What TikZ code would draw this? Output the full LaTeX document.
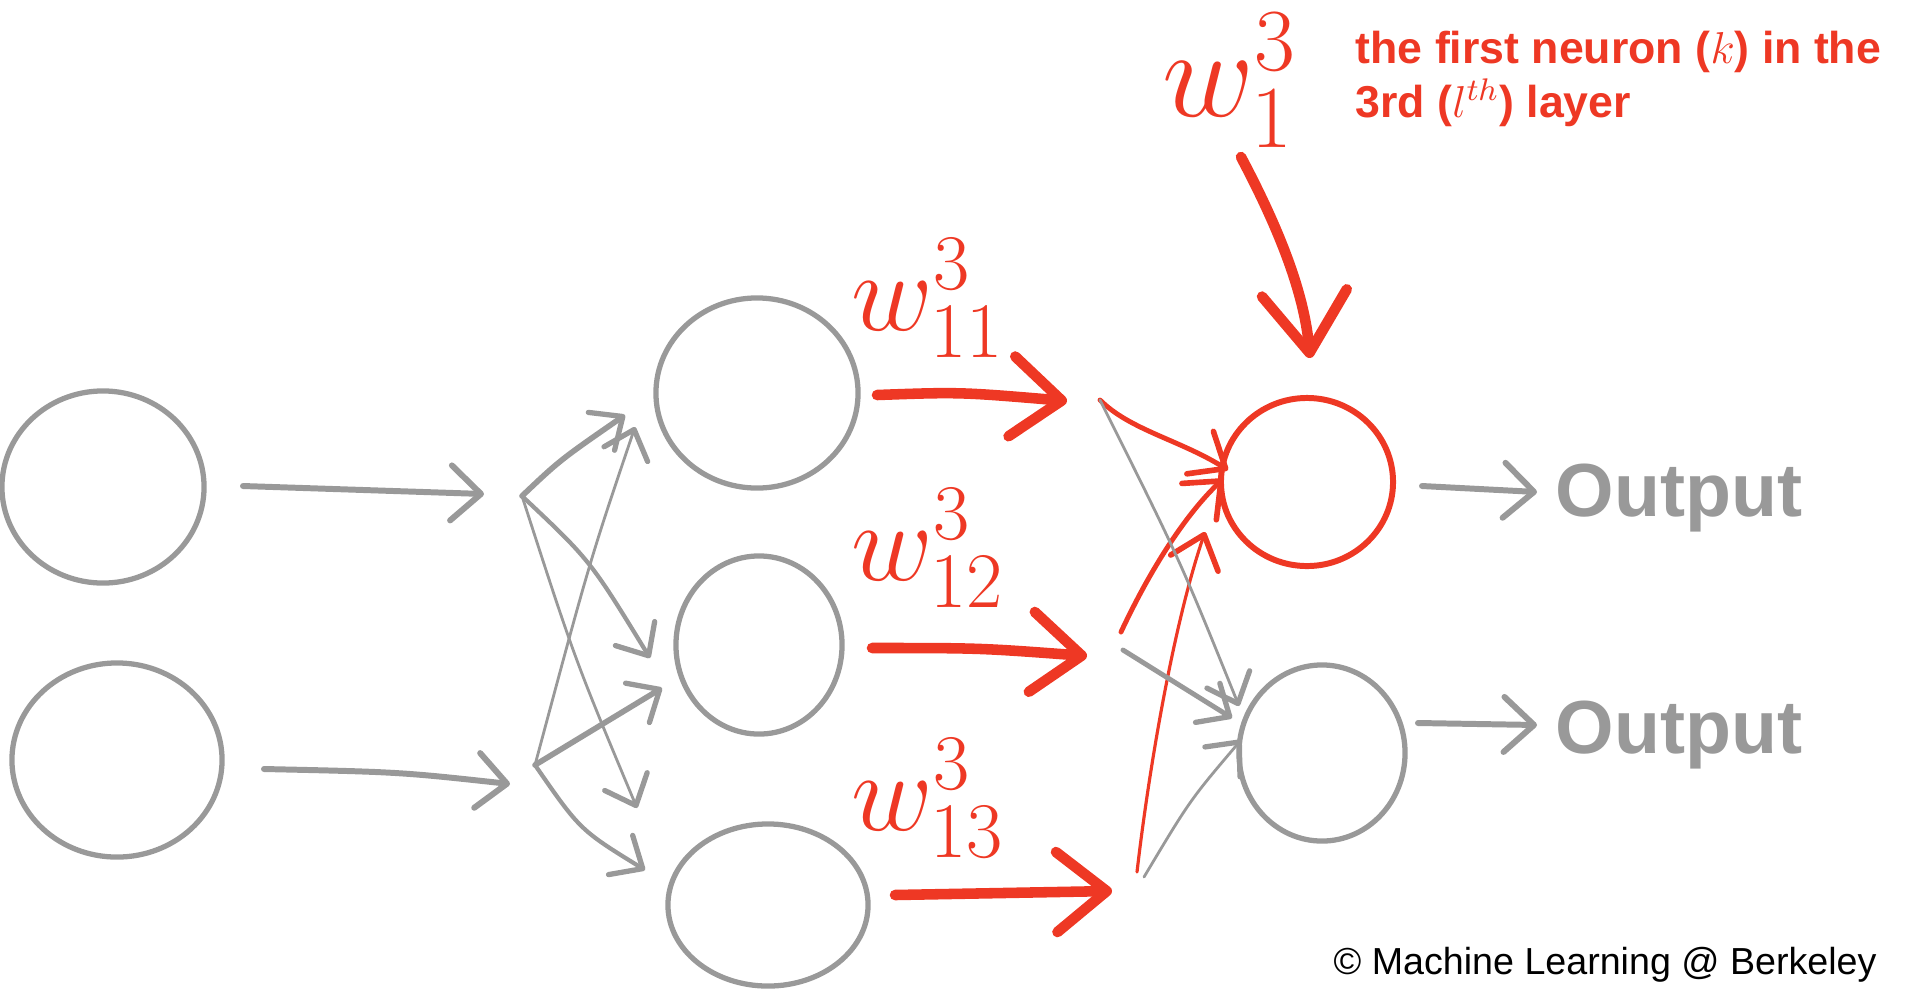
\RequirePackage{fix-cm}
\documentclass[tikz,border=0pt]{standalone}
\usepackage{fontspec}
\newfontfamily\helv{Liberation Sans}
\usetikzlibrary{arrows.meta,shapes.geometric}
\definecolor{nngray}{RGB}{153,153,153}
\definecolor{nnred}{RGB}{238,56,36}

\begin{document}
\begin{tikzpicture}[x=0.01cm,y=-0.01cm,
        neuron/.style={draw=nngray,line width=1.5pt,ellipse,inner sep=0pt},
        garrow/.style={draw=nngray,line width=1.7pt,line cap=round,-{Straight Barb[length=3mm,width=5.5mm,round]}},
        fanline/.style={draw=nngray,line cap=round,-{Straight Barb[length=2.6mm,width=4.6mm,round,line width=1.5pt]}},
        rarrow/.style={draw=nnred,line width=3pt,line cap=round,-{Straight Barb[length=5mm,width=8mm,round]}},
        rlink/.style={draw=nnred,line cap=round,-{Straight Barb[length=3mm,width=5mm,round,line width=1.6pt]}},
        wlabel/.style={text=nnred,inner sep=0pt,anchor=base west,font=\fontsize{32}{36}\selectfont}]
    \useasboundingbox (0,0) rectangle (1905,990);
    %% Neurons
    \node[neuron,minimum width=2.02cm,minimum height=1.92cm] (I1) at (103,487) {};
    \node[neuron,minimum width=2.10cm,minimum height=1.94cm] (I2) at (117,760) {};
    \node[neuron,minimum width=2.02cm,minimum height=1.90cm] (H1) at (757,393) {};
    \node[neuron,minimum width=1.66cm,minimum height=1.78cm] (H2) at (759,645) {};
    \node[neuron,minimum width=2.00cm,minimum height=1.62cm] (H3) at (768,905) {};
    \node[neuron,draw=nnred,line width=1.7pt,minimum width=1.72cm,minimum height=1.68cm] (O1) at (1307,482) {};
    \node[neuron,minimum width=1.66cm,minimum height=1.76cm] (O2) at (1322,753) {};
    %% Arrow ends
    \coordinate (a1) at (243,486);  \coordinate (b1) at (484,494);
    \coordinate (a2) at (264,769);  \coordinate (b2) at (510,784);
    \coordinate (h1) at (522,496);  \coordinate (h2) at (535,765);
    \coordinate (t11) at (625,415); \coordinate (t12) at (650,658); \coordinate (t13) at (637,808);
    \coordinate (t21) at (635,427); \coordinate (t22) at (662,688); \coordinate (t23) at (645,870);
    \coordinate (r1a) at (877,395); \coordinate (r1b) at (1067,401);
    \coordinate (r2a) at (872,648); \coordinate (r2b) at (1087,656);
    \coordinate (r3a) at (895,895); \coordinate (r3b) at (1112,891);
    \coordinate (s1) at (1100,400); \coordinate (s2) at (1121,632); \coordinate (s2g) at (1123,650);
    \coordinate (s3) at (1137,872); \coordinate (s3g) at (1144,877);
    \coordinate (e1) at (1228,470); \coordinate (e2) at (1223,479); \coordinate (e3) at (1205,532);
    \coordinate (f1) at (1239,706); \coordinate (f2) at (1232,718); \coordinate (f3) at (1241,740);
    \coordinate (o1a) at (1422,486); \coordinate (o1b) at (1537,492);
    \coordinate (o2a) at (1418,723); \coordinate (o2b) at (1537,725);
    \coordinate (k0) at (1241,157); \coordinate (k1) at (1310,358);
    %% Input layer
    \draw[garrow] (a1) -- (b1);
    \draw[garrow] (a2) .. controls (400,772) .. (b2);
    \draw[fanline,line width=1.6pt] (h1) .. controls (560,460) .. (t11);
    \draw[fanline,line width=1.2pt] (h1) .. controls (590,560) .. (t12);
    \draw[fanline,line width=0.8pt] (h1) .. controls (575,660) .. (t13);
    \draw[fanline,line width=0.8pt] (h2) .. controls (590,560) .. (t21);
    \draw[fanline,line width=1.6pt] (h2) -- (t22);
    \draw[fanline,line width=1.2pt] (h2) .. controls (580,830) .. (t23);
    %% Weights
    \draw[rarrow] (r1a) .. controls (960,392) .. (r1b);
    \draw[rarrow] (r2a) .. controls (980,648) .. (r2b);
    \draw[rarrow] (r3a) -- (r3b);
    \draw[rlink,line width=1.4pt] (s1) .. controls (1130,430) and (1180,440) .. (e1);
    \draw[rlink,line width=1.4pt] (s2) .. controls (1150,570) and (1185,515) .. (e2);
    \draw[rlink,line width=0.9pt] (s3) .. controls (1150,760) and (1175,620) .. (e3);
    \draw[fanline,line width=0.8pt] (s1) .. controls (1180,560) .. (f1);
    \draw[fanline,line width=1.4pt] (s2g) -- (f2);
    \draw[fanline,line width=0.8pt] (s3g) .. controls (1190,800) .. (f3);
    %% Outputs
    \draw[garrow] (o1a) -- (o1b);
    \draw[garrow] (o2a) -- (o2b);
    \draw[rarrow,-{Straight Barb[length=6mm,width=8.5mm,round]}] (k0) .. controls (1285,240) and (1305,300) .. (k1);
    %% Labels
    \node[wlabel] (w11) at (851,330) {$w^3_{11}$};
    \node[wlabel] (w12) at (851,580) {$w^3_{12}$};
    \node[wlabel] (w13) at (851,830) {$w^3_{13}$};
    \node[wlabel,font=\fontsize{36}{40}\selectfont] (w1) at (1162,116) {$w^3_1$};
    \node[text=nnred,inner sep=0pt,anchor=base west,align=left,font=\helv\bfseries\fontsize{12.7}{15.1}\selectfont] (note) at (1355,117)
        {the first neuron ($k$) in the\\3rd ($l^{th}$) layer};
    \node[text=nngray,inner sep=0pt,anchor=base west,font=\helv\bfseries\fontsize{21.4}{24}\selectfont] (out1) at (1555,516) {Output};
    \node[text=nngray,inner sep=0pt,anchor=base west,font=\helv\bfseries\fontsize{21.4}{24}\selectfont] (out2) at (1555,753) {Output};
    \node[inner sep=0pt,anchor=base west,font=\helv\fontsize{10.7}{13}\selectfont] (copy) at (1333,974) {© Machine Learning @ Berkeley};
\end{tikzpicture}
\end{document}
